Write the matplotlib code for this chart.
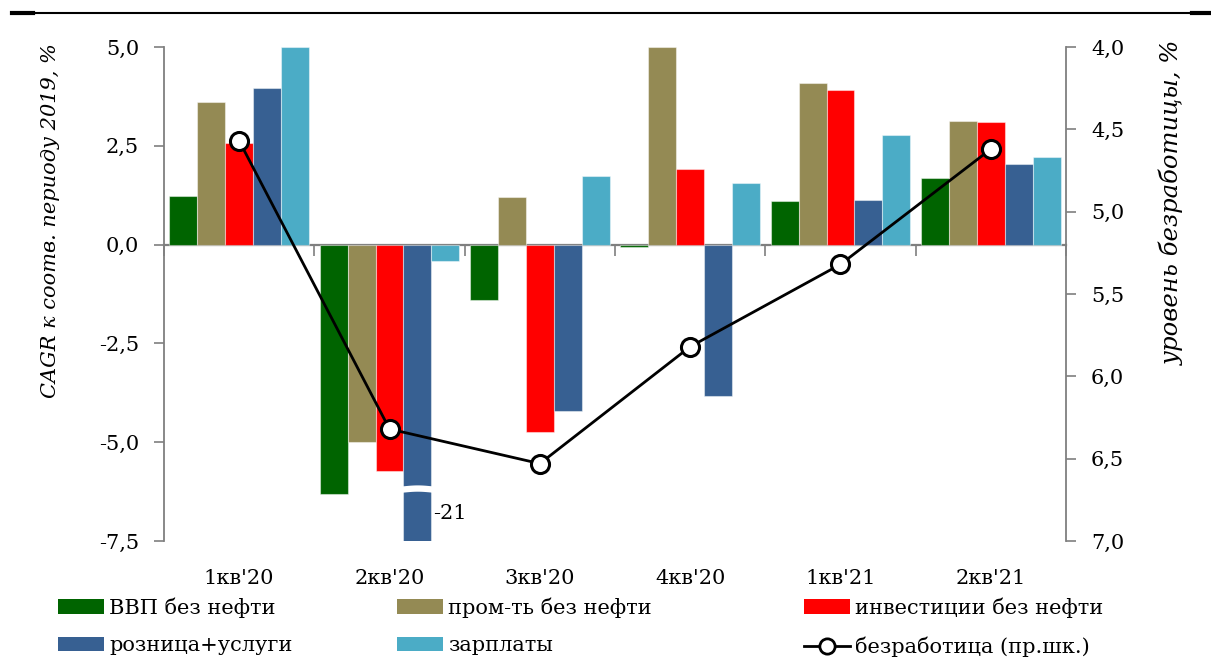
import numpy as np
import matplotlib
matplotlib.use("Agg")
import matplotlib.pyplot as plt
from matplotlib.patches import Patch
from matplotlib.lines import Line2D

# --- data -------------------------------------------------------------
quarters = ["1кв'20", "2кв'20", "3кв'20", "4кв'20", "1кв'21", "2кв'21"]

gdp_ex_oil = [1.23, -6.30, -1.39, -0.05, 1.11, 1.68]
industry_ex_oil = [3.60, -4.99, 1.21, 5.00, 4.09, 3.14]
investment_ex_oil = [2.57, -5.72, -4.74, 1.91, 3.91, 3.10]
retail_services = [3.96, -21.0, -4.22, -3.82, 1.14, 2.04]
wages = [5.00, -0.41, 1.74, 1.56, 2.77, 2.22]
unemployment = [4.57, 6.32, 6.53, 5.82, 5.32, 4.62]

series_labels = ["ВВП без нефти", "пром-ть без нефти", "инвестиции без нефти",
                 "розница+услуги", "зарплаты"]
unemp_label = "безработица (пр.шк.)"
left_title = "CAGR к соотв. периоду 2019, %"
right_title = "уровень безработицы, %"

colors = ["#006400", "#948A54", "#FF0000", "#376092", "#4BACC6"]

# --- style ------------------------------------------------------------
plt.rcParams["font.family"] = ["DejaVu Serif"]
FS = 15
GREY = "#7f7f7f"

fig = plt.figure(figsize=(12.11, 6.59), dpi=100)
ax = fig.add_axes([164 / 1211, 1 - 541 / 659, (1066 - 164) / 1211, (541 - 47) / 659])

n = len(quarters)
x = np.arange(n)
series = [gdp_ex_oil, industry_ex_oil, investment_ex_oil, retail_services, wages]
bw = 0.93 / len(series)

ymin, ymax = -7.5, 5.0
bars = []
for j, (vals, col) in enumerate(zip(series, colors)):
    b = ax.bar(x + (j - 2) * bw, vals, width=bw, color=col,
               edgecolor=(1, 1, 1, 0.45), linewidth=0.8, zorder=2)
    bars.append(b)

ax.set_xlim(-0.5, n - 0.5)
ax.set_ylim(ymin, ymax)
left_ticks = np.arange(ymin, ymax + 0.01, 2.5)
ax.set_yticks(left_ticks)
ax.set_yticklabels([f"{v:.1f}".replace(".", ",") for v in left_ticks], fontsize=FS)
ax.tick_params(axis="y", direction="out", length=7, width=1.2, color=GREY, pad=11)
ax.set_xticks(x)
ax.set_xticklabels(quarters, fontsize=FS)
ax.tick_params(axis="x", length=0, pad=20)

for s in ("top", "bottom", "right"):
    ax.spines[s].set_visible(False)
ax.spines["left"].set_color(GREY)
ax.spines["left"].set_linewidth(1.3)

# zero line with downward ticks at the quarter boundaries
zero_loc = (0 - ymin) / (ymax - ymin)
sec = ax.secondary_xaxis(zero_loc)
sec.xaxis.tick_bottom()
sec.set_xticks(np.arange(-0.5, n, 1.0))
sec.set_xticklabels([])
sec.tick_params(axis="x", direction="out", length=8, width=1.2, color=GREY)
sec.spines["top"].set_visible(False)
sec.spines["bottom"].set_visible(True)
sec.spines["bottom"].set_color(GREY)
sec.spines["bottom"].set_linewidth(1.6)

# broken bar: retail & services in 2кв'20 runs off the scale
k = 1
rect = bars[3][k]
bx0, bx1 = rect.get_x() - 0.01, rect.get_x() + rect.get_width() + 0.01
xs = np.linspace(bx0, bx1, 40)
wave = 0.02 * np.sin((xs - bx0) / (bx1 - bx0) * np.pi * 1.2 - 0.3)
ax.fill_between(xs, -6.10 + wave, -6.26 + wave, color="white", zorder=3, linewidth=0)
ax.text(rect.get_x() + rect.get_width() + 0.01, -6.8,
        f"{retail_services[k]:.0f}", fontsize=FS, ha="left", va="center", zorder=4)

# unemployment on the inverted right axis
ax2 = ax.twinx()
ax2.plot(x, unemployment, color="black", lw=2, marker="o", markersize=13,
         markerfacecolor="white", markeredgecolor="black", markeredgewidth=2.2, zorder=5)
ax2.set_ylim(7.0, 4.0)
right_ticks = np.arange(4.0, 7.01, 0.5)
ax2.set_yticks(right_ticks)
ax2.set_yticklabels([f"{v:.1f}".replace(".", ",") for v in right_ticks], fontsize=FS)
ax2.tick_params(axis="y", direction="out", length=7, width=1.2, color=GREY, pad=11)
for s in ("top", "bottom", "left"):
    ax2.spines[s].set_visible(False)
ax2.spines["right"].set_color(GREY)
ax2.spines["right"].set_linewidth(1.3)

# axis titles
fig.text(51 / 1211, 1 - 43 / 659, left_title, rotation=90, ha="center", va="top",
         fontsize=15, style="italic")
fig.text(1172 / 1211, 1 - 40 / 659, right_title, rotation=90, ha="center", va="top",
         fontsize=17.5, style="italic")

# rule across the top
fig.add_artist(Line2D([15 / 1211, 1197 / 1211], [1 - 13 / 659] * 2, color="black", lw=1.5))
fig.add_artist(Line2D([12 / 1211, 33 / 1211], [1 - 13 / 659] * 2, color="black", lw=3))
fig.add_artist(Line2D([1192 / 1211, 1211 / 1211], [1 - 13 / 659] * 2, color="black", lw=3))

# legend: three columns of two entries
handles = [Patch(facecolor=c, edgecolor="none") for c in colors]
line_handle = Line2D([], [], color="black", lw=2, marker="o", markersize=11,
                     markerfacecolor="white", markeredgecolor="black", markeredgewidth=2)
columns = [
    ([handles[0], handles[3]], [series_labels[0], series_labels[3]], 58),
    ([handles[1], handles[4]], [series_labels[1], series_labels[4]], 397),
    ([handles[2], line_handle], [series_labels[2], unemp_label], 804),
]
for hs, ls, px in columns:
    fig.legend(hs, ls, loc="upper left", bbox_to_anchor=(px / 1211, 1 - 597 / 659),
               frameon=False, fontsize=FS, handlelength=2.2, handleheight=0.7,
               handletextpad=0.25, labelspacing=0.91, borderpad=0, borderaxespad=0,
               numpoints=1)

fig.savefig("out.png", dpi=100)
